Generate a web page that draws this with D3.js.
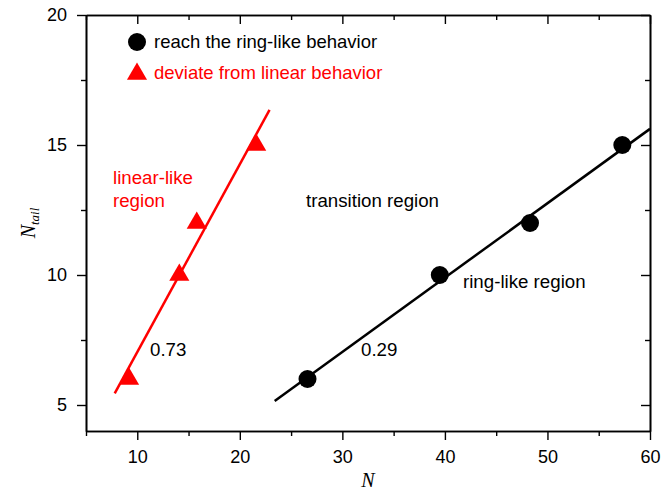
<!DOCTYPE html>
<html>
<head>
<meta charset="utf-8">
<script src="https://cdn.jsdelivr.net/npm/d3@7"></script>
<style>
  body { margin: 0; background: #fff; }
  svg { display: block; font-family: "Liberation Sans", Arial, sans-serif; }
</style>
</head>
<body>
<div id="wrapper"></div>
<script>
// data
const ringN = [26.6, 39.5, 48.3, 57.3]
const ringTail = [6, 10, 12, 15]
const linearN = [9.2, 14.1, 15.8, 21.6]
const linearTail = [6, 10, 12, 15]

// fitted lines (end points)
const ringFitN = [23.4, 60]
const ringFitTail = [5.15, 15.62]
const linearFitN = [7.8, 22.9]
const linearFitTail = [5.45, 16.35]

const xTicks = [10, 20, 30, 40, 50, 60]
const xMinor = [5, 15, 25, 35, 45, 55]
const yTicks = [5, 10, 15, 20]
const yMinor = [7.5, 12.5, 17.5]

const legendLabels = ["reach the ring-like behavior", "deviate from linear behavior"]

const dims = {
  width: 662,
  height: 491,
  margin: { top: 15, right: 12, bottom: 60, left: 86 },
}
dims.boundedWidth = dims.width - dims.margin.left - dims.margin.right
dims.boundedHeight = dims.height - dims.margin.top - dims.margin.bottom

const svg = d3.select("#wrapper")
  .append("svg")
  .attr("width", dims.width)
  .attr("height", dims.height)

const bounds = svg.append("g")
  .attr("transform", `translate(${dims.margin.left},${dims.margin.top})`)

const xScale = d3.scaleLinear()
  .domain([5, 60])
  .range([0, dims.boundedWidth])

const yScale = d3.scaleLinear()
  .domain([4, 20])
  .range([dims.boundedHeight, 0])

// axes
const styleAxis = g => {
  g.select(".domain").attr("stroke", "#000").attr("stroke-width", 1.6)
  g.selectAll(".tick line").attr("stroke", "#000").attr("stroke-width", 1.4)
  g.selectAll("text").attr("fill", "#000").style("font-size", "18px")
    .style("font-family", "'Liberation Sans', Arial, sans-serif")
}

bounds.append("g")
  .attr("transform", `translate(0,${dims.boundedHeight})`)
  .call(d3.axisBottom(xScale).tickValues(xTicks).tickSize(9).tickPadding(10).tickSizeOuter(0))
  .call(styleAxis)
bounds.append("g")
  .attr("transform", `translate(0,${dims.boundedHeight})`)
  .call(d3.axisBottom(xScale).tickValues(xMinor).tickSize(5).tickFormat("").tickSizeOuter(0))
  .call(styleAxis)

bounds.append("g")
  .call(d3.axisLeft(yScale).tickValues(yTicks).tickSize(9).tickPadding(10).tickSizeOuter(0))
  .call(styleAxis)
bounds.append("g")
  .call(d3.axisLeft(yScale).tickValues(yMinor).tickSize(5).tickFormat("").tickSizeOuter(0))
  .call(styleAxis)

// top and right with inward ticks
bounds.append("g")
  .call(d3.axisTop(xScale).tickValues(xTicks).tickSize(-9).tickFormat("").tickSizeOuter(0))
  .call(styleAxis)
bounds.append("g")
  .call(d3.axisTop(xScale).tickValues(xMinor).tickSize(-5).tickFormat("").tickSizeOuter(0))
  .call(styleAxis)
bounds.append("g")
  .attr("transform", `translate(${dims.boundedWidth},0)`)
  .call(d3.axisRight(yScale).tickValues(yTicks).tickSize(-9).tickFormat("").tickSizeOuter(0))
  .call(styleAxis)
bounds.append("g")
  .attr("transform", `translate(${dims.boundedWidth},0)`)
  .call(d3.axisRight(yScale).tickValues(yMinor).tickSize(-5).tickFormat("").tickSizeOuter(0))
  .call(styleAxis)

// axis titles
svg.append("text")
  .attr("x", dims.margin.left + dims.boundedWidth / 2)
  .attr("y", 487)
  .attr("text-anchor", "middle")
  .style("font-family", "'Liberation Serif', 'Times New Roman', serif")
  .style("font-style", "italic")
  .style("font-size", "20px")
  .text("N")

const yTitle = svg.append("text")
  .attr("transform", `translate(35,${dims.margin.top + dims.boundedHeight / 2}) rotate(-90)`)
  .attr("text-anchor", "middle")
  .style("font-family", "'Liberation Serif', 'Times New Roman', serif")
  .style("font-style", "italic")
  .style("font-size", "20px")
yTitle.append("tspan").text("N")
yTitle.append("tspan").attr("dy", 4).style("font-size", "13px").text("tail")

// fit lines
const line = d3.line().x(d => xScale(d[0])).y(d => yScale(d[1]))

bounds.append("path")
  .datum(d3.zip(linearFitN, linearFitTail))
  .attr("d", line)
  .attr("fill", "none")
  .attr("stroke", "#ff0000")
  .attr("stroke-width", 2.5)

bounds.append("path")
  .datum(d3.zip(ringFitN, ringFitTail))
  .attr("d", line)
  .attr("fill", "none")
  .attr("stroke", "#000")
  .attr("stroke-width", 2.5)

// markers
const triangle = d3.symbol().type(d3.symbolTriangle).size(175)

bounds.append("g")
  .selectAll("path")
  .data(d3.zip(linearN, linearTail))
  .join("path")
  .attr("d", triangle)
  .attr("transform", d => `translate(${xScale(d[0])},${yScale(d[1])})`)
  .attr("fill", "#ff0000")

bounds.append("g")
  .selectAll("circle")
  .data(d3.zip(ringN, ringTail))
  .join("circle")
  .attr("cx", d => xScale(d[0]))
  .attr("cy", d => yScale(d[1]))
  .attr("r", 9)
  .attr("fill", "#000")

// legend
const legend = svg.append("g")
legend.append("circle")
  .attr("cx", 137).attr("cy", 42).attr("r", 9).attr("fill", "#000")
legend.append("path")
  .attr("d", triangle)
  .attr("transform", "translate(137,74)")
  .attr("fill", "#ff0000")
legend.selectAll("text")
  .data(legendLabels)
  .join("text")
  .attr("x", 154)
  .attr("y", (d, i) => 48 + i * 31)
  .attr("fill", (d, i) => i === 0 ? "#000" : "#ff0000")
  .style("font-size", "18.5px")
  .text(d => d)

// annotations
const notes = [
  { t: "linear-like", x: 113, y: 184, c: "#ff0000" },
  { t: "region", x: 113, y: 207, c: "#ff0000" },
  { t: "transition region", x: 306, y: 207, c: "#000" },
  { t: "ring-like region", x: 463, y: 288, c: "#000" },
  { t: "0.73", x: 150, y: 356, c: "#000" },
  { t: "0.29", x: 361, y: 356, c: "#000" },
]
svg.append("g")
  .selectAll("text")
  .data(notes)
  .join("text")
  .attr("x", d => d.x)
  .attr("y", d => d.y)
  .attr("fill", d => d.c)
  .style("font-size", "18.7px")
  .text(d => d.t)
</script>
</body>
</html>
